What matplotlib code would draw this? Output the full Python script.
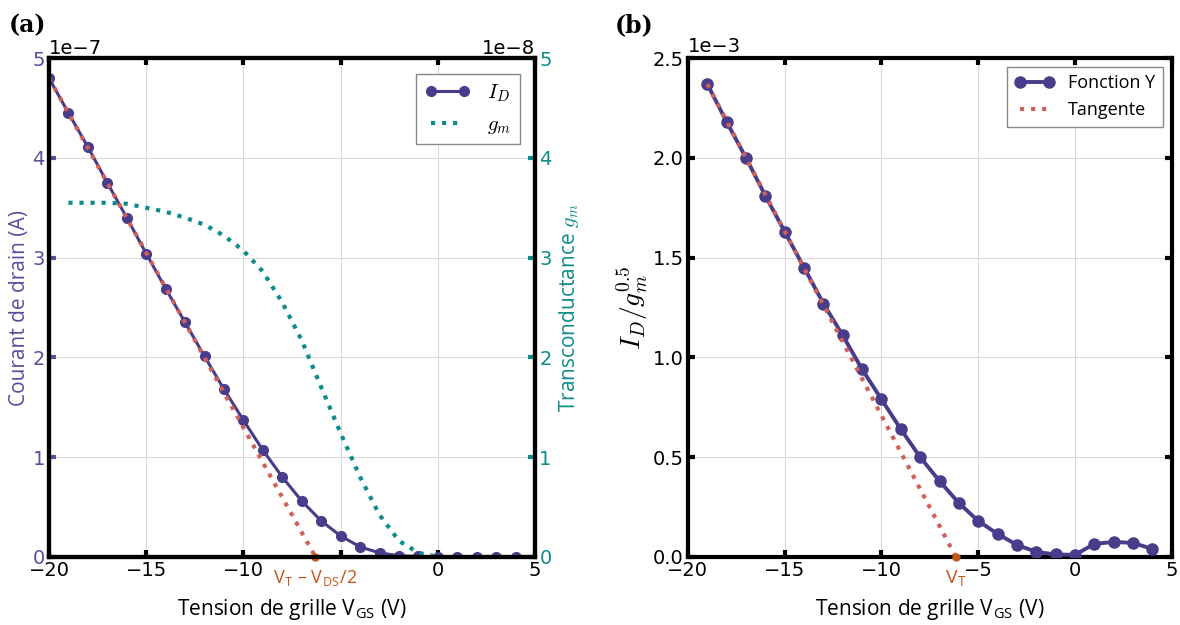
import matplotlib
matplotlib.use("Agg")
import matplotlib.pyplot as plt
import numpy as np

# --- données ---
vgs = list(range(-20, 5))
id_vals = [4.80, 4.45, 4.11, 3.75, 3.40, 3.04, 2.69, 2.35, 2.01, 1.68, 1.37, 1.07,
           0.80, 0.56, 0.36, 0.21, 0.10, 0.04, 0.012, 0.004, 0.0, 0.0, 0.0, 0.0, 0.0]  # x1e-7 A

vgs_gm = list(range(-19, 1))
gm_vals = [3.55, 3.55, 3.55, 3.54, 3.50, 3.46, 3.40, 3.33, 3.22, 3.07, 2.86, 2.55,
           2.17, 1.70, 1.24, 0.80, 0.42, 0.16, 0.04, 0.0]  # x1e-8

vgs_y = list(range(-19, 5))
y_vals = [2.37, 2.18, 2.00, 1.81, 1.63, 1.45, 1.27, 1.11, 0.94, 0.79, 0.64, 0.50,
          0.38, 0.27, 0.18, 0.115, 0.06, 0.025, 0.012, 0.01, 0.065, 0.075, 0.07, 0.04]  # x1e-3

tan_a_x = [-20, -6.3]
tan_a_y = [4.80, 0.0]
tan_b_x = [-19, -6.16]
tan_b_y = [2.37, 0.0]

xticks = [-20, -15, -10, -5, 0, 5]
xlabels_a = ["\u221220", "\u221215", "\u221210", "", "0", "5"]

purple = "#483d8b"
purple_txt = "#5a4e9e"
teal = "#0e8c8a"
red = "#d2605a"
orange = "#c4561a"

plt.rcParams["mathtext.fontset"] = "cm"
plt.rcParams["font.family"] = ["DejaVu Sans"]

fig = plt.figure(figsize=(11.8, 6.25), dpi=100)
ax1 = fig.add_axes([0.0415, 0.109, 0.412, 0.798])
ax3 = fig.add_axes([0.583, 0.109, 0.410, 0.798])


def style(ax):
    for s in ax.spines.values():
        s.set_linewidth(3)
    ax.grid(True, color="#d9d9d9", linewidth=0.8)
    ax.set_axisbelow(True)
    ax.tick_params(direction="in", length=5, width=3, labelsize=14, pad=3)


# ---- (a) ----
style(ax1)
ax1.plot(vgs, np.array(id_vals) * 1e-7, "-o", color=purple, lw=2.2, ms=7, label="$I_D$", zorder=3)
ax1.plot(tan_a_x, np.array(tan_a_y) * 1e-7, ":", color=red, lw=3, zorder=4)
ax1.plot([tan_a_x[1]], [0], "o", color=orange, ms=5, clip_on=False, zorder=6)
ax1.set_xlim(-20, 5)
ax1.set_ylim(0, 5e-7)
ax1.set_xticks(xticks)
ax1.set_xticklabels(xlabels_a)
ax1.ticklabel_format(axis="y", style="sci", scilimits=(0, 0))
ax1.yaxis.get_offset_text().set_fontsize(14)
ax1.tick_params(axis="x", top=True, bottom=True)
ax1.tick_params(axis="y", colors=purple_txt, right=False)
ax1.set_xlabel("Tension de grille V$_\\mathregular{GS}$ (V)", fontsize=15, family="Open Sans", labelpad=12)
ax1.set_ylabel("Courant de drain (A)", fontsize=15, family="Open Sans", color=purple_txt, labelpad=2)
ax1.yaxis.get_offset_text().set_color("black")

ax2 = ax1.twinx()
ax2.plot(vgs_gm, np.array(gm_vals) * 1e-8, ":", color=teal, lw=3, label="$g_m$")
ax2.set_ylim(0, 5e-8)
ax2.ticklabel_format(axis="y", style="sci", scilimits=(0, 0))
ax2.yaxis.get_offset_text().set_fontsize(14)
ax2.tick_params(axis="y", direction="in", length=5, width=3, labelsize=14, colors=teal, pad=3)
for s in ax2.spines.values():
    s.set_linewidth(3)
ax2.yaxis.get_offset_text().set_color("black")
ax2.set_ylabel("Transconductance $g_m$", fontsize=15, family="Open Sans", color=teal, labelpad=4)

h1, l1 = ax1.get_legend_handles_labels()
h2, l2 = ax2.get_legend_handles_labels()
leg = ax2.legend(h1 + h2, l1 + l2, loc="upper right", fontsize=15, numpoints=2,
                 fancybox=False, edgecolor="#888888", framealpha=1, handlelength=2.2,
                 borderaxespad=0.75)
leg.get_frame().set_linewidth(1)

ax1.text(tan_a_x[1], -0.12e-7, "V$_\\mathregular{T}$ \u2013 V$_\\mathregular{DS}$/2", color=orange,
         fontsize=13, family="Open Sans", ha="center", va="top")

# ---- (b) ----
style(ax3)
ax3.plot(vgs_y, np.array(y_vals) * 1e-3, "-o", color=purple, lw=2.8, ms=8, label="Fonction Y", zorder=3)
ax3.plot(tan_b_x, np.array(tan_b_y) * 1e-3, ":", color=red, lw=3, label="Tangente", zorder=4)
ax3.plot([tan_b_x[1]], [0], "o", color=orange, ms=5, clip_on=False, zorder=6)
ax3.set_xlim(-20, 5)
ax3.set_ylim(0, 2.5e-3)
ax3.set_xticks(xticks)
ax3.set_yticks(np.arange(0, 2.51e-3, 0.5e-3))
ax3.tick_params(top=True, right=True)
ax3.yaxis.set_major_formatter(matplotlib.ticker.FuncFormatter(lambda v, p: f"{v * 1e3:.1f}"))
ax3.text(0.0, 1.005, "1e\u22123", transform=ax3.transAxes, fontsize=14, va="bottom", ha="left")
ax3.set_xlabel("Tension de grille V$_\\mathregular{GS}$ (V)", fontsize=15, family="Open Sans", labelpad=12)
ax3.set_ylabel("$I_D/g_m^{0.5}$", fontsize=20, labelpad=2)
leg3 = ax3.legend(loc="upper right", numpoints=2, fancybox=False,
                  edgecolor="#888888", framealpha=1, handlelength=2.2, borderaxespad=0.5,
                  prop={"family": "Open Sans", "size": 13})
leg3.get_frame().set_linewidth(1)
ax3.text(tan_b_x[1], -0.06e-3, "V$_\\mathregular{T}$", color=orange,
         fontsize=14, family="Open Sans", ha="center", va="top")

fig.text(0.007, 0.948, "(a)", fontsize=17, fontweight="bold", family="DejaVu Serif")
fig.text(0.521, 0.948, "(b)", fontsize=17, fontweight="bold", family="DejaVu Serif")

fig.savefig("out.png", dpi=100)
